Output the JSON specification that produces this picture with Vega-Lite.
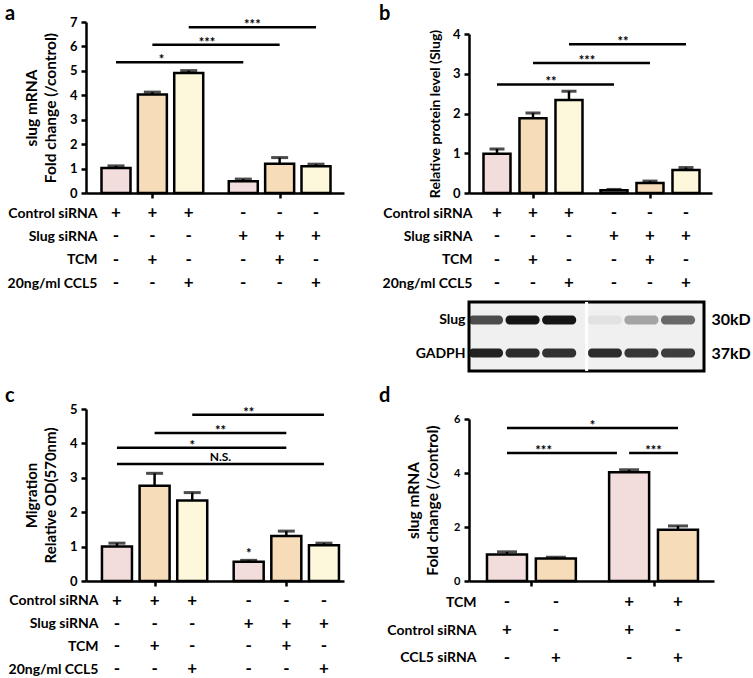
{
"$schema": "https://vega.github.io/schema/vega-lite/v6.json",
"padding": {"left": 5, "top": 4, "right": 0, "bottom": 0},
"config": {
  "font": "Lato",
  "view": {"stroke": null},
  "axis": {"domainColor": "black", "domainWidth": 2.5, "tickColor": "black", "tickWidth": 2.5, "tickSize": 5, "labelFont": "Lato", "labelFontWeight": "bold", "labelFontSize": 13, "labelColor": "black", "labelPadding": 4, "titleFont": "Lato", "titleFontWeight": "bold", "titleFontSize": 14, "titleColor": "black", "grid": false},
  "title": {"font": "Lato", "fontWeight": "bold", "fontSize": 20, "color": "black", "anchor": "start", "frame": "group"},
  "text": {"font": "Lato", "fontWeight": "bold", "color": "black"}
},
"datasets": {
  "a_bars": [
    {"lane": "L1", "treatment": "none", "value": 1.02, "upper": 1.11},
    {"lane": "L2", "treatment": "TCM", "value": 4.03, "upper": 4.13},
    {"lane": "L3", "treatment": "CCL5", "value": 4.91, "upper": 5.01},
    {"lane": "L4", "treatment": "none", "value": 0.48, "upper": 0.57},
    {"lane": "L5", "treatment": "TCM", "value": 1.2, "upper": 1.45},
    {"lane": "L6", "treatment": "CCL5", "value": 1.09, "upper": 1.18}
  ],
  "a_sig": [
    {"label": "*", "from": "L1", "to": "L4", "at": "L2a", "level": 5.35},
    {"label": "***", "from": "L2", "to": "L5", "at": "L3b", "level": 6.07},
    {"label": "***", "from": "L3", "to": "L6", "at": "L4a", "level": 6.78}
  ],
  "b_bars": [
    {"lane": "L1", "treatment": "none", "value": 0.99, "upper": 1.11},
    {"lane": "L2", "treatment": "TCM", "value": 1.88, "upper": 2.01},
    {"lane": "L3", "treatment": "CCL5", "value": 2.34, "upper": 2.56},
    {"lane": "L4", "treatment": "none", "value": 0.07, "upper": 0.09},
    {"lane": "L5", "treatment": "TCM", "value": 0.25, "upper": 0.3},
    {"lane": "L6", "treatment": "CCL5", "value": 0.58, "upper": 0.64}
  ],
  "b_sig": [
    {"label": "**", "from": "L1", "to": "L4", "at": "L2b", "level": 2.73},
    {"label": "***", "from": "L2", "to": "L5", "at": "L3b", "level": 3.27},
    {"label": "**", "from": "L3", "to": "L6", "at": "L4a", "level": 3.74}
  ],
  "c_bars": [
    {"lane": "L1", "treatment": "none", "value": 1.0, "upper": 1.1},
    {"lane": "L2", "treatment": "TCM", "value": 2.77, "upper": 3.13},
    {"lane": "L3", "treatment": "CCL5", "value": 2.34, "upper": 2.57},
    {"lane": "L4", "treatment": "none", "value": 0.56, "upper": 0.6, "note": "*"},
    {"lane": "L5", "treatment": "TCM", "value": 1.31, "upper": 1.45},
    {"lane": "L6", "treatment": "CCL5", "value": 1.04, "upper": 1.1}
  ],
  "c_sig": [
    {"label": "N.S.", "from": "L1", "to": "L6", "at": "L3c", "level": 3.4},
    {"label": "*", "from": "L1", "to": "L5", "at": "L3", "level": 3.87},
    {"label": "**", "from": "L2", "to": "L5", "at": "L3c", "level": 4.3},
    {"label": "**", "from": "L3", "to": "L6", "at": "L4", "level": 4.83}
  ],
  "d_bars": [
    {"lane": "L1", "sirna": "Control siRNA", "value": 0.98, "upper": 1.08},
    {"lane": "L2", "sirna": "CCL5 siRNA", "value": 0.83, "upper": 0.88},
    {"lane": "L3", "sirna": "Control siRNA", "value": 4.03, "upper": 4.12},
    {"lane": "L4", "sirna": "CCL5 siRNA", "value": 1.9, "upper": 2.04}
  ],
  "d_sig": [
    {"label": "*", "from": "L1", "to": "L4", "at": "L2c", "level": 5.67},
    {"label": "***", "from": "L1", "to": "L2e", "at": "L1c", "level": 4.74},
    {"label": "***", "from": "L3", "to": "L4", "at": "L3b", "level": 4.74}
  ],
  "cond6": [
    {"lane": "L1", "Control siRNA": "+", "Slug siRNA": "-", "TCM": "-", "20ng/ml CCL5": "-"},
    {"lane": "L2", "Control siRNA": "+", "Slug siRNA": "-", "TCM": "+", "20ng/ml CCL5": "-"},
    {"lane": "L3", "Control siRNA": "+", "Slug siRNA": "-", "TCM": "-", "20ng/ml CCL5": "+"},
    {"lane": "L4", "Control siRNA": "-", "Slug siRNA": "+", "TCM": "-", "20ng/ml CCL5": "-"},
    {"lane": "L5", "Control siRNA": "-", "Slug siRNA": "+", "TCM": "+", "20ng/ml CCL5": "-"},
    {"lane": "L6", "Control siRNA": "-", "Slug siRNA": "+", "TCM": "-", "20ng/ml CCL5": "+"}
  ],
  "cond4": [
    {"lane": "L1", "TCM": "-", "Control siRNA": "+", "CCL5 siRNA": "-"},
    {"lane": "L2", "TCM": "-", "Control siRNA": "-", "CCL5 siRNA": "+"},
    {"lane": "L3", "TCM": "+", "Control siRNA": "+", "CCL5 siRNA": "-"},
    {"lane": "L4", "TCM": "+", "Control siRNA": "-", "CCL5 siRNA": "+"}
  ],
  "blot": [
    {"lane": "L1", "protein": "Slug", "kd": "30kD", "intensity": 0.75},
    {"lane": "L2", "protein": "Slug", "kd": "30kD", "intensity": 1.0},
    {"lane": "L3", "protein": "Slug", "kd": "30kD", "intensity": 1.0},
    {"lane": "L4", "protein": "Slug", "kd": "30kD", "intensity": 0.06},
    {"lane": "L5", "protein": "Slug", "kd": "30kD", "intensity": 0.35},
    {"lane": "L6", "protein": "Slug", "kd": "30kD", "intensity": 0.62},
    {"lane": "L1", "protein": "GADPH", "kd": "37kD", "intensity": 0.95},
    {"lane": "L2", "protein": "GADPH", "kd": "37kD", "intensity": 0.9},
    {"lane": "L3", "protein": "GADPH", "kd": "37kD", "intensity": 0.88},
    {"lane": "L4", "protein": "GADPH", "kd": "37kD", "intensity": 0.9},
    {"lane": "L5", "protein": "GADPH", "kd": "37kD", "intensity": 0.85},
    {"lane": "L6", "protein": "GADPH", "kd": "37kD", "intensity": 0.82}
  ],
  "blot_splice": [{"gap": "L3c"}],
  "head": [{"panel": "b"}]
},
"spacing": 35,
"resolve": {"scale": {"color": "independent"}},
"hconcat": [
  {"spacing": 95,
   "vconcat": [
    {"spacing": 4,
     "vconcat": [
      {"title": {"text": "a", "dx": -81, "offset": -8},
       "width": 258, "height": 171,
       "layer": [
        {"data": {"name": "a_bars"},
         "mark": {"type": "bar", "width": 29, "stroke": "black", "strokeWidth": 2.5},
         "encoding": {
          "x": {"field": "lane", "type": "nominal", "scale": {"type": "point", "domain": ["p1","p2","p3","L1","L1a","L1b","L1c","L2","L2a","L2b","L2c","L3","L3a","L3b","L3c","L3d","L3e","L4","L4a","L4b","L4c","L5","L5a","L5b","L5c","L6","q1","q2","q3"], "padding": 0.19, "align": 0.79}, "axis": {"values": ["L2", "L5"], "labels": false, "title": null}},
          "y": {"field": "value", "type": "quantitative", "scale": {"domain": [0, 7]}, "axis": {"values": [0,1,2,3,4,5,6,7], "title": ["slug mRNA", "Fold change (/control)"], "titleFontSize": 15.5, "titleLineHeight": 19, "titlePadding": 11}},
          "color": {"field": "treatment", "type": "nominal", "scale": {"domain": ["none", "TCM", "CCL5"], "range": ["#f2dcdc", "#f6dcb8", "#fdf8dc"]}, "legend": null}
         }},
        {"data": {"name": "a_bars"},
         "mark": {"type": "rule", "color": "black", "strokeWidth": 2.5},
         "encoding": {
          "x": {"field": "lane", "type": "nominal", "scale": {"type": "point", "domain": ["p1","p2","p3","L1","L1a","L1b","L1c","L2","L2a","L2b","L2c","L3","L3a","L3b","L3c","L3d","L3e","L4","L4a","L4b","L4c","L5","L5a","L5b","L5c","L6","q1","q2","q3"], "padding": 0.19, "align": 0.79}, "axis": {"values": ["L2", "L5"], "labels": false, "title": null}},
          "y": {"field": "value", "type": "quantitative", "scale": {"domain": [0, 7]}, "axis": {"values": [0,1,2,3,4,5,6,7], "title": ["slug mRNA", "Fold change (/control)"], "titleFontSize": 15.5, "titleLineHeight": 19, "titlePadding": 11}},
          "y2": {"field": "upper"}
         }},
        {"data": {"name": "a_bars"},
         "mark": {"type": "tick", "orient": "horizontal", "color": "black", "size": 17, "thickness": 3},
         "encoding": {
          "x": {"field": "lane", "type": "nominal", "scale": {"type": "point", "domain": ["p1","p2","p3","L1","L1a","L1b","L1c","L2","L2a","L2b","L2c","L3","L3a","L3b","L3c","L3d","L3e","L4","L4a","L4b","L4c","L5","L5a","L5b","L5c","L6","q1","q2","q3"], "padding": 0.19, "align": 0.79}, "axis": {"values": ["L2", "L5"], "labels": false, "title": null}},
          "y": {"field": "upper", "type": "quantitative", "scale": {"domain": [0, 7]}, "axis": {"values": [0,1,2,3,4,5,6,7], "title": ["slug mRNA", "Fold change (/control)"], "titleFontSize": 15.5, "titleLineHeight": 19, "titlePadding": 11}}
         }},
        {"data": {"name": "a_sig"},
         "mark": {"type": "rule", "color": "black", "strokeWidth": 2.5},
         "encoding": {
          "x": {"field": "from", "type": "nominal", "scale": {"type": "point", "domain": ["p1","p2","p3","L1","L1a","L1b","L1c","L2","L2a","L2b","L2c","L3","L3a","L3b","L3c","L3d","L3e","L4","L4a","L4b","L4c","L5","L5a","L5b","L5c","L6","q1","q2","q3"], "padding": 0.19, "align": 0.79}, "axis": {"values": ["L2", "L5"], "labels": false, "title": null}},
          "x2": {"field": "to"},
          "y": {"field": "level", "type": "quantitative", "scale": {"domain": [0, 7]}, "axis": {"values": [0,1,2,3,4,5,6,7], "title": ["slug mRNA", "Fold change (/control)"], "titleFontSize": 15.5, "titleLineHeight": 19, "titlePadding": 11}}
         }},
        {"data": {"name": "a_sig"},
         "mark": {"type": "text", "fontSize": 13, "dy": 2, "baseline": "alphabetic"},
         "encoding": {
          "x": {"field": "at", "type": "nominal", "scale": {"type": "point", "domain": ["p1","p2","p3","L1","L1a","L1b","L1c","L2","L2a","L2b","L2c","L3","L3a","L3b","L3c","L3d","L3e","L4","L4a","L4b","L4c","L5","L5a","L5b","L5c","L6","q1","q2","q3"], "padding": 0.19, "align": 0.79}, "axis": {"values": ["L2", "L5"], "labels": false, "title": null}},
          "y": {"field": "level", "type": "quantitative", "scale": {"domain": [0, 7]}, "axis": {"values": [0,1,2,3,4,5,6,7], "title": ["slug mRNA", "Fold change (/control)"], "titleFontSize": 15.5, "titleLineHeight": 19, "titlePadding": 11}},
          "text": {"field": "label"}
         }}
       ]},
      {"width": 258, "height": 84,
       "data": {"name": "cond6"},
       "transform": [{"fold": ["Control siRNA", "Slug siRNA", "TCM", "20ng/ml CCL5"], "as": ["cond", "sign"]}],
       "mark": {"type": "text", "fontSize": 17, "baseline": "middle"},
       "encoding": {
        "x": {"field": "lane", "type": "nominal", "scale": {"type": "point", "domain": ["p1","p2","p3","L1","L1a","L1b","L1c","L2","L2a","L2b","L2c","L3","L3a","L3b","L3c","L3d","L3e","L4","L4a","L4b","L4c","L5","L5a","L5b","L5c","L6","q1","q2","q3"], "padding": 0.19, "align": 0.79}, "axis": null},
        "y": {"field": "cond", "type": "nominal", "scale": {"type": "point", "domain": ["Control siRNA", "Slug siRNA", "TCM", "20ng/ml CCL5"], "padding": 0.3}, "axis": {"domain": false, "ticks": false, "labelFontSize": 14, "labelPadding": 0, "offset": -11, "title": null}},
        "text": {"field": "sign"}
       }}
     ]},
    {"spacing": 3,
     "vconcat": [
      {"title": {"text": "c", "dx": -81, "offset": -3},
       "width": 258, "height": 172,
       "layer": [
        {"data": {"name": "c_bars"},
         "mark": {"type": "bar", "width": 30, "stroke": "black", "strokeWidth": 2.5},
         "encoding": {
          "x": {"field": "lane", "type": "nominal", "scale": {"type": "point", "domain": ["p1","p2","p3","L1","L1a","L1b","L1c","L2","L2a","L2b","L2c","L3","L3a","L3b","L3c","L3d","L3e","L4","L4a","L4b","L4c","L5","L5a","L5b","L5c","L6","q1","q2"], "padding": 0.21, "align": 0.69}, "axis": {"values": ["L2", "L5"], "labels": false, "title": null}},
          "y": {"field": "value", "type": "quantitative", "scale": {"domain": [0, 5]}, "axis": {"values": [0,1,2,3,4,5], "title": ["Migration", "Relative OD(570nm)"], "titleFontSize": 15, "titleLineHeight": 19, "titlePadding": 11}},
          "color": {"field": "treatment", "type": "nominal", "scale": {"domain": ["none", "TCM", "CCL5"], "range": ["#f2dcdc", "#f6dcb8", "#fdf8dc"]}, "legend": null}
         }},
        {"data": {"name": "c_bars"},
         "mark": {"type": "rule", "color": "black", "strokeWidth": 2.5},
         "encoding": {
          "x": {"field": "lane", "type": "nominal", "scale": {"type": "point", "domain": ["p1","p2","p3","L1","L1a","L1b","L1c","L2","L2a","L2b","L2c","L3","L3a","L3b","L3c","L3d","L3e","L4","L4a","L4b","L4c","L5","L5a","L5b","L5c","L6","q1","q2"], "padding": 0.21, "align": 0.69}, "axis": {"values": ["L2", "L5"], "labels": false, "title": null}},
          "y": {"field": "value", "type": "quantitative", "scale": {"domain": [0, 5]}, "axis": {"values": [0,1,2,3,4,5], "title": ["Migration", "Relative OD(570nm)"], "titleFontSize": 15, "titleLineHeight": 19, "titlePadding": 11}},
          "y2": {"field": "upper"}
         }},
        {"data": {"name": "c_bars"},
         "mark": {"type": "tick", "orient": "horizontal", "color": "black", "size": 17, "thickness": 3},
         "encoding": {
          "x": {"field": "lane", "type": "nominal", "scale": {"type": "point", "domain": ["p1","p2","p3","L1","L1a","L1b","L1c","L2","L2a","L2b","L2c","L3","L3a","L3b","L3c","L3d","L3e","L4","L4a","L4b","L4c","L5","L5a","L5b","L5c","L6","q1","q2"], "padding": 0.21, "align": 0.69}, "axis": {"values": ["L2", "L5"], "labels": false, "title": null}},
          "y": {"field": "upper", "type": "quantitative", "scale": {"domain": [0, 5]}, "axis": {"values": [0,1,2,3,4,5], "title": ["Migration", "Relative OD(570nm)"], "titleFontSize": 15, "titleLineHeight": 19, "titlePadding": 11}}
         }},
        {"data": {"name": "c_bars"},
         "transform": [{"filter": "isValid(datum.note)"}],
         "mark": {"type": "text", "fontSize": 13, "dy": -2, "baseline": "alphabetic"},
         "encoding": {
          "x": {"field": "lane", "type": "nominal", "scale": {"type": "point", "domain": ["p1","p2","p3","L1","L1a","L1b","L1c","L2","L2a","L2b","L2c","L3","L3a","L3b","L3c","L3d","L3e","L4","L4a","L4b","L4c","L5","L5a","L5b","L5c","L6","q1","q2"], "padding": 0.21, "align": 0.69}, "axis": {"values": ["L2", "L5"], "labels": false, "title": null}},
          "y": {"field": "upper", "type": "quantitative", "scale": {"domain": [0, 5]}, "axis": {"values": [0,1,2,3,4,5], "title": ["Migration", "Relative OD(570nm)"], "titleFontSize": 15, "titleLineHeight": 19, "titlePadding": 11}},
          "text": {"field": "note"}
         }},
        {"data": {"name": "c_sig"},
         "mark": {"type": "rule", "color": "black", "strokeWidth": 2.5},
         "encoding": {
          "x": {"field": "from", "type": "nominal", "scale": {"type": "point", "domain": ["p1","p2","p3","L1","L1a","L1b","L1c","L2","L2a","L2b","L2c","L3","L3a","L3b","L3c","L3d","L3e","L4","L4a","L4b","L4c","L5","L5a","L5b","L5c","L6","q1","q2"], "padding": 0.21, "align": 0.69}, "axis": {"values": ["L2", "L5"], "labels": false, "title": null}},
          "x2": {"field": "to"},
          "y": {"field": "level", "type": "quantitative", "scale": {"domain": [0, 5]}, "axis": {"values": [0,1,2,3,4,5], "title": ["Migration", "Relative OD(570nm)"], "titleFontSize": 15, "titleLineHeight": 19, "titlePadding": 11}}
         }},
        {"data": {"name": "c_sig"},
         "transform": [{"filter": "datum.label !== 'N.S.'"}],
         "mark": {"type": "text", "fontSize": 13, "dy": 2, "baseline": "alphabetic"},
         "encoding": {
          "x": {"field": "at", "type": "nominal", "scale": {"type": "point", "domain": ["p1","p2","p3","L1","L1a","L1b","L1c","L2","L2a","L2b","L2c","L3","L3a","L3b","L3c","L3d","L3e","L4","L4a","L4b","L4c","L5","L5a","L5b","L5c","L6","q1","q2"], "padding": 0.21, "align": 0.69}, "axis": {"values": ["L2", "L5"], "labels": false, "title": null}},
          "y": {"field": "level", "type": "quantitative", "scale": {"domain": [0, 5]}, "axis": {"values": [0,1,2,3,4,5], "title": ["Migration", "Relative OD(570nm)"], "titleFontSize": 15, "titleLineHeight": 19, "titlePadding": 11}},
          "text": {"field": "label"}
         }},
        {"data": {"name": "c_sig"},
         "transform": [{"filter": "datum.label === 'N.S.'"}],
         "mark": {"type": "text", "fontSize": 12, "dy": -3, "baseline": "alphabetic"},
         "encoding": {
          "x": {"field": "at", "type": "nominal", "scale": {"type": "point", "domain": ["p1","p2","p3","L1","L1a","L1b","L1c","L2","L2a","L2b","L2c","L3","L3a","L3b","L3c","L3d","L3e","L4","L4a","L4b","L4c","L5","L5a","L5b","L5c","L6","q1","q2"], "padding": 0.21, "align": 0.69}, "axis": {"values": ["L2", "L5"], "labels": false, "title": null}},
          "y": {"field": "level", "type": "quantitative", "scale": {"domain": [0, 5]}, "axis": {"values": [0,1,2,3,4,5], "title": ["Migration", "Relative OD(570nm)"], "titleFontSize": 15, "titleLineHeight": 19, "titlePadding": 11}},
          "text": {"field": "label"}
         }}
       ]},
      {"width": 258, "height": 82,
       "data": {"name": "cond6"},
       "transform": [{"fold": ["Control siRNA", "Slug siRNA", "TCM", "20ng/ml CCL5"], "as": ["cond", "sign"]}],
       "mark": {"type": "text", "fontSize": 17, "baseline": "middle"},
       "encoding": {
        "x": {"field": "lane", "type": "nominal", "scale": {"type": "point", "domain": ["p1","p2","p3","L1","L1a","L1b","L1c","L2","L2a","L2b","L2c","L3","L3a","L3b","L3c","L3d","L3e","L4","L4a","L4b","L4c","L5","L5a","L5b","L5c","L6","q1","q2"], "padding": 0.21, "align": 0.69}, "axis": null},
        "y": {"field": "cond", "type": "nominal", "scale": {"type": "point", "domain": ["Control siRNA", "Slug siRNA", "TCM", "20ng/ml CCL5"], "padding": 0.3}, "axis": {"domain": false, "ticks": false, "labelFontSize": 14, "labelPadding": 0, "offset": -12, "title": null}},
        "text": {"field": "sign"}
       }}
     ]}
   ]},
  {"spacing": 12,
   "resolve": {"scale": {"color": "independent"}},
   "vconcat": [
    {"spacing": 4,
     "vconcat": [
      {"title": {"text": "b", "dx": -90, "offset": -2},
       "width": 243, "height": 1,
       "data": {"name": "head"},
       "mark": {"type": "point", "opacity": 0, "size": 1},
       "encoding": {}},
      {"spacing": 8,
       "vconcat": [
        {"spacing": 4,
         "vconcat": [
          {"width": 243, "height": 159,
           "layer": [
            {"data": {"name": "b_bars"},
             "mark": {"type": "bar", "width": 27, "stroke": "black", "strokeWidth": 2.5},
             "encoding": {
              "x": {"field": "lane", "type": "nominal", "scale": {"type": "point", "domain": ["p1","p2","p3","L1","L1a","L1b","L1c","L2","L2a","L2b","L2c","L3","L3a","L3b","L3c","L3d","L4","L4a","L4b","L4c","L5","L5a","L5b","L5c","L6","q1","q2"], "padding": 0.5, "align": 0.11}, "axis": {"values": ["L2", "L5"], "labels": false, "title": null}},
              "y": {"field": "value", "type": "quantitative", "scale": {"domain": [0, 4]}, "axis": {"values": [0,1,2,3,4], "title": "Relative protein level (Slug)", "titlePadding": 10}},
              "color": {"field": "treatment", "type": "nominal", "scale": {"domain": ["none", "TCM", "CCL5"], "range": ["#f2dcdc", "#f6dcb8", "#fdf8dc"]}, "legend": null}
             }},
            {"data": {"name": "b_bars"},
             "mark": {"type": "rule", "color": "black", "strokeWidth": 2.5},
             "encoding": {
              "x": {"field": "lane", "type": "nominal", "scale": {"type": "point", "domain": ["p1","p2","p3","L1","L1a","L1b","L1c","L2","L2a","L2b","L2c","L3","L3a","L3b","L3c","L3d","L4","L4a","L4b","L4c","L5","L5a","L5b","L5c","L6","q1","q2"], "padding": 0.5, "align": 0.11}, "axis": {"values": ["L2", "L5"], "labels": false, "title": null}},
              "y": {"field": "value", "type": "quantitative", "scale": {"domain": [0, 4]}, "axis": {"values": [0,1,2,3,4], "title": "Relative protein level (Slug)", "titlePadding": 10}},
              "y2": {"field": "upper"}
             }},
            {"data": {"name": "b_bars"},
             "mark": {"type": "tick", "orient": "horizontal", "color": "black", "size": 15, "thickness": 3},
             "encoding": {
              "x": {"field": "lane", "type": "nominal", "scale": {"type": "point", "domain": ["p1","p2","p3","L1","L1a","L1b","L1c","L2","L2a","L2b","L2c","L3","L3a","L3b","L3c","L3d","L4","L4a","L4b","L4c","L5","L5a","L5b","L5c","L6","q1","q2"], "padding": 0.5, "align": 0.11}, "axis": {"values": ["L2", "L5"], "labels": false, "title": null}},
              "y": {"field": "upper", "type": "quantitative", "scale": {"domain": [0, 4]}, "axis": {"values": [0,1,2,3,4], "title": "Relative protein level (Slug)", "titlePadding": 10}}
             }},
            {"data": {"name": "b_sig"},
             "mark": {"type": "rule", "color": "black", "strokeWidth": 2.5},
             "encoding": {
              "x": {"field": "from", "type": "nominal", "scale": {"type": "point", "domain": ["p1","p2","p3","L1","L1a","L1b","L1c","L2","L2a","L2b","L2c","L3","L3a","L3b","L3c","L3d","L4","L4a","L4b","L4c","L5","L5a","L5b","L5c","L6","q1","q2"], "padding": 0.5, "align": 0.11}, "axis": {"values": ["L2", "L5"], "labels": false, "title": null}},
              "x2": {"field": "to"},
              "y": {"field": "level", "type": "quantitative", "scale": {"domain": [0, 4]}, "axis": {"values": [0,1,2,3,4], "title": "Relative protein level (Slug)", "titlePadding": 10}}
             }},
            {"data": {"name": "b_sig"},
             "mark": {"type": "text", "fontSize": 13, "dy": 2, "baseline": "alphabetic"},
             "encoding": {
              "x": {"field": "at", "type": "nominal", "scale": {"type": "point", "domain": ["p1","p2","p3","L1","L1a","L1b","L1c","L2","L2a","L2b","L2c","L3","L3a","L3b","L3c","L3d","L4","L4a","L4b","L4c","L5","L5a","L5b","L5c","L6","q1","q2"], "padding": 0.5, "align": 0.11}, "axis": {"values": ["L2", "L5"], "labels": false, "title": null}},
              "y": {"field": "level", "type": "quantitative", "scale": {"domain": [0, 4]}, "axis": {"values": [0,1,2,3,4], "title": "Relative protein level (Slug)", "titlePadding": 10}},
              "text": {"field": "label"}
             }}
           ]},
          {"width": 243, "height": 84,
           "data": {"name": "cond6"},
           "transform": [{"fold": ["Control siRNA", "Slug siRNA", "TCM", "20ng/ml CCL5"], "as": ["cond", "sign"]}],
           "mark": {"type": "text", "fontSize": 17, "baseline": "middle"},
           "encoding": {
            "x": {"field": "lane", "type": "nominal", "scale": {"type": "point", "domain": ["p1","p2","p3","L1","L1a","L1b","L1c","L2","L2a","L2b","L2c","L3","L3a","L3b","L3c","L3d","L4","L4a","L4b","L4c","L5","L5a","L5b","L5c","L6","q1","q2"], "padding": 0.5, "align": 0.11}, "axis": null},
            "y": {"field": "cond", "type": "nominal", "scale": {"type": "point", "domain": ["Control siRNA", "Slug siRNA", "TCM", "20ng/ml CCL5"], "padding": 0.3}, "axis": {"domain": false, "ticks": false, "labelFontSize": 14, "labelPadding": 0, "offset": -3, "title": null}},
            "text": {"field": "sign"}
           }}
         ]},
        {"width": 235, "height": 69,
         "view": {"stroke": "black", "strokeWidth": 3, "fill": "#f0f0f0"},
         "layer": [
          {"data": {"name": "blot"},
           "mark": {"type": "tick", "orient": "horizontal", "color": "#161616", "size": 34, "thickness": 9, "cornerRadius": 4},
           "encoding": {
            "x": {"field": "lane", "type": "nominal", "scale": {"type": "point", "domain": ["p1","L1","L1a","L1b","L1c","L2","L2a","L2b","L2c","L3","L3a","L3b","L3c","L3d","L4","L4a","L4b","L4c","L5","L5a","L5b","L5c","L6","q1","q2"], "padding": 0.85, "align": 0.506}, "axis": null},
            "y": {"field": "protein", "type": "nominal", "scale": {"type": "point", "domain": ["Slug", "GADPH"], "padding": 0.545}, "axis": {"domain": false, "ticks": false, "labelFontSize": 14, "labelPadding": 4, "title": null}},
            "opacity": {"field": "intensity", "type": "quantitative", "scale": {"domain": [0, 1], "range": [0, 1]}, "legend": null}
           }},
          {"data": {"name": "blot_splice"},
           "mark": {"type": "rule", "color": "white", "strokeWidth": 3},
           "encoding": {
            "x": {"field": "gap", "type": "nominal", "scale": {"type": "point", "domain": ["p1","L1","L1a","L1b","L1c","L2","L2a","L2b","L2c","L3","L3a","L3b","L3c","L3d","L4","L4a","L4b","L4c","L5","L5a","L5b","L5c","L6","q1","q2"], "padding": 0.85, "align": 0.506}, "axis": null}
           }},
          {"data": {"name": "blot"},
           "mark": {"type": "tick", "orient": "horizontal", "opacity": 0},
           "encoding": {
            "x": {"field": "lane", "type": "nominal", "scale": {"type": "point", "domain": ["p1","L1","L1a","L1b","L1c","L2","L2a","L2b","L2c","L3","L3a","L3b","L3c","L3d","L4","L4a","L4b","L4c","L5","L5a","L5b","L5c","L6","q1","q2"], "padding": 0.85, "align": 0.506}, "axis": null},
            "y": {"field": "kd", "type": "nominal", "scale": {"type": "point", "domain": ["30kD", "37kD"], "padding": 0.545}, "axis": {"orient": "right", "domain": false, "ticks": false, "labelFontSize": 16, "labelPadding": 7, "title": null}}
           }}
         ],
         "resolve": {"scale": {"y": "independent"}, "axis": {"y": "independent"}}}
       ]}
     ]},
    {"spacing": 5,
     "vconcat": [
      {"title": {"text": "d", "dx": -90, "offset": 7},
       "width": 245, "height": 162,
       "layer": [
        {"data": {"name": "d_bars"},
         "mark": {"type": "bar", "width": 40, "stroke": "black", "strokeWidth": 2.5},
         "encoding": {
          "x": {"field": "lane", "type": "nominal", "scale": {"type": "point", "domain": ["p1","p2","p3","L1","L1a","L1b","L1c","L2","L2a","L2b","L2c","L2d","L2e","L3","L3a","L3b","L3c","L4","q1","q2"], "padding": 0.53, "align": 0.104}, "axis": {"values": ["L1b", "L3b"], "labels": false, "title": null}},
          "y": {"field": "value", "type": "quantitative", "scale": {"domain": [0, 6]}, "axis": {"values": [0,2,4,6], "labelFontSize": 11, "title": ["slug mRNA", "Fold change (/control)"], "titleFontSize": 15.5, "titleLineHeight": 19, "titlePadding": 13}},
          "color": {"field": "sirna", "type": "nominal", "scale": {"domain": ["Control siRNA", "CCL5 siRNA"], "range": ["#f2dcdc", "#f6dcb8"]}, "legend": null}
         }},
        {"data": {"name": "d_bars"},
         "mark": {"type": "rule", "color": "black", "strokeWidth": 2.5},
         "encoding": {
          "x": {"field": "lane", "type": "nominal", "scale": {"type": "point", "domain": ["p1","p2","p3","L1","L1a","L1b","L1c","L2","L2a","L2b","L2c","L2d","L2e","L3","L3a","L3b","L3c","L4","q1","q2"], "padding": 0.53, "align": 0.104}, "axis": {"values": ["L1b", "L3b"], "labels": false, "title": null}},
          "y": {"field": "value", "type": "quantitative", "scale": {"domain": [0, 6]}, "axis": {"values": [0,2,4,6], "labelFontSize": 11, "title": ["slug mRNA", "Fold change (/control)"], "titleFontSize": 15.5, "titleLineHeight": 19, "titlePadding": 13}},
          "y2": {"field": "upper"}
         }},
        {"data": {"name": "d_bars"},
         "mark": {"type": "tick", "orient": "horizontal", "color": "black", "size": 20, "thickness": 3},
         "encoding": {
          "x": {"field": "lane", "type": "nominal", "scale": {"type": "point", "domain": ["p1","p2","p3","L1","L1a","L1b","L1c","L2","L2a","L2b","L2c","L2d","L2e","L3","L3a","L3b","L3c","L4","q1","q2"], "padding": 0.53, "align": 0.104}, "axis": {"values": ["L1b", "L3b"], "labels": false, "title": null}},
          "y": {"field": "upper", "type": "quantitative", "scale": {"domain": [0, 6]}, "axis": {"values": [0,2,4,6], "labelFontSize": 11, "title": ["slug mRNA", "Fold change (/control)"], "titleFontSize": 15.5, "titleLineHeight": 19, "titlePadding": 13}}
         }},
        {"data": {"name": "d_sig"},
         "mark": {"type": "rule", "color": "black", "strokeWidth": 2.5},
         "encoding": {
          "x": {"field": "from", "type": "nominal", "scale": {"type": "point", "domain": ["p1","p2","p3","L1","L1a","L1b","L1c","L2","L2a","L2b","L2c","L2d","L2e","L3","L3a","L3b","L3c","L4","q1","q2"], "padding": 0.53, "align": 0.104}, "axis": {"values": ["L1b", "L3b"], "labels": false, "title": null}},
          "x2": {"field": "to"},
          "y": {"field": "level", "type": "quantitative", "scale": {"domain": [0, 6]}, "axis": {"values": [0,2,4,6], "labelFontSize": 11, "title": ["slug mRNA", "Fold change (/control)"], "titleFontSize": 15.5, "titleLineHeight": 19, "titlePadding": 13}}
         }},
        {"data": {"name": "d_sig"},
         "mark": {"type": "text", "fontSize": 13, "dy": 2, "baseline": "alphabetic"},
         "encoding": {
          "x": {"field": "at", "type": "nominal", "scale": {"type": "point", "domain": ["p1","p2","p3","L1","L1a","L1b","L1c","L2","L2a","L2b","L2c","L2d","L2e","L3","L3a","L3b","L3c","L4","q1","q2"], "padding": 0.53, "align": 0.104}, "axis": {"values": ["L1b", "L3b"], "labels": false, "title": null}},
          "y": {"field": "level", "type": "quantitative", "scale": {"domain": [0, 6]}, "axis": {"values": [0,2,4,6], "labelFontSize": 11, "title": ["slug mRNA", "Fold change (/control)"], "titleFontSize": 15.5, "titleLineHeight": 19, "titlePadding": 13}},
          "text": {"field": "label"}
         }}
       ]},
      {"width": 245, "height": 72,
       "data": {"name": "cond4"},
       "transform": [{"fold": ["TCM", "Control siRNA", "CCL5 siRNA"], "as": ["cond", "sign"]}],
       "mark": {"type": "text", "fontSize": 17, "baseline": "middle"},
       "encoding": {
        "x": {"field": "lane", "type": "nominal", "scale": {"type": "point", "domain": ["p1","p2","p3","L1","L1a","L1b","L1c","L2","L2a","L2b","L2c","L2d","L2e","L3","L3a","L3b","L3c","L4","q1","q2"], "padding": 0.53, "align": 0.104}, "axis": null},
        "y": {"field": "cond", "type": "nominal", "scale": {"type": "point", "domain": ["TCM", "Control siRNA", "CCL5 siRNA"], "padding": 0.3}, "axis": {"domain": false, "ticks": false, "labelFontSize": 14, "labelPadding": 0, "offset": -7, "title": null}},
        "text": {"field": "sign"}
       }}
     ]}
   ]}
]
}
